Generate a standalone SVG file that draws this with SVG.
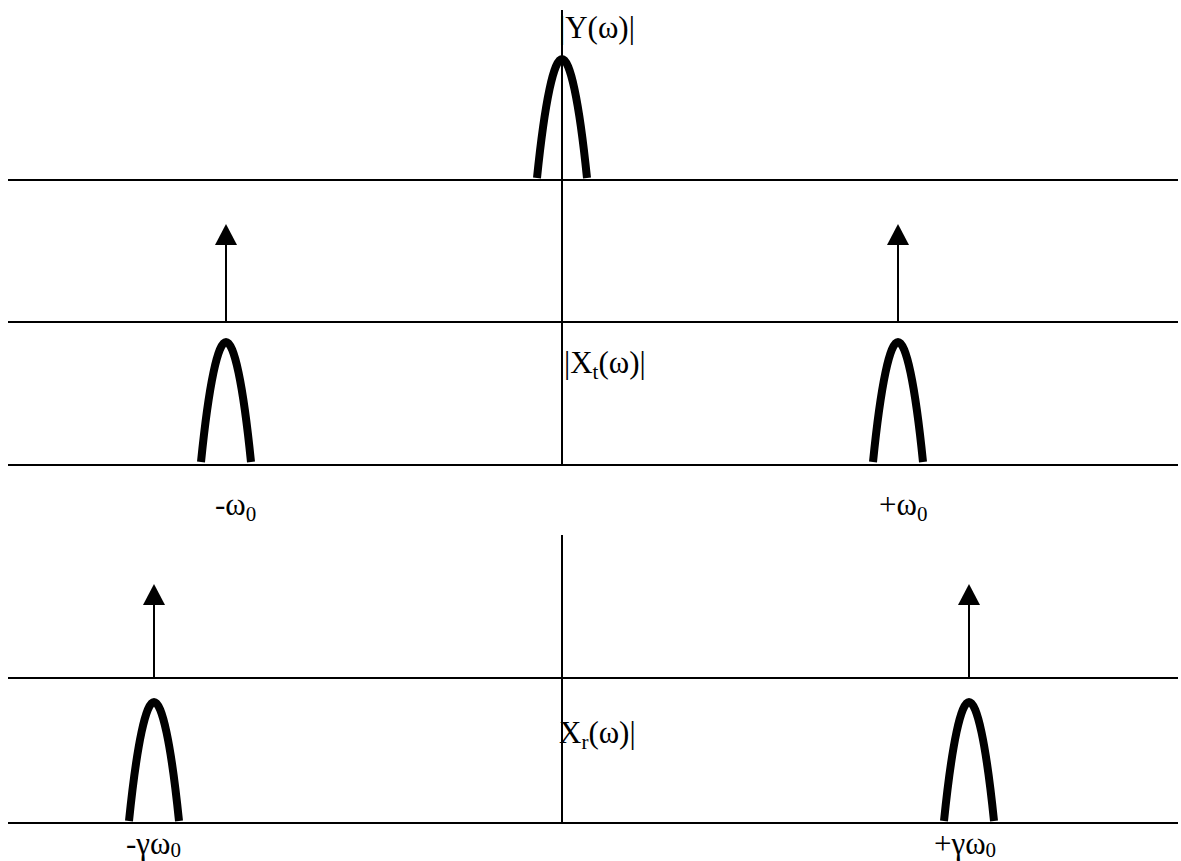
<svg xmlns="http://www.w3.org/2000/svg" width="1181" height="861" viewBox="0 0 1181 861">
<style>
.ax{stroke:#000;stroke-width:2;fill:none}
.pk{stroke:#000;stroke-width:8;fill:none}
.ar{stroke:#000;stroke-width:2}
text{font-family:"Liberation Serif","Times New Roman",serif;font-size:31px;fill:#000}
.sub{font-size:21px}
</style>
<defs>
<marker id="ah" viewBox="0 -11 21 22" refX="0" refY="0" markerWidth="21" markerHeight="22" markerUnits="userSpaceOnUse" orient="auto">
<path d="M0,-11 L21,0 L0,11 Z" fill="#000"/>
</marker>
</defs>
<g id="connectors">
<line class="ax" x1="8" y1="180" x2="1178" y2="180"/>
<line class="ax" x1="8" y1="322" x2="1178" y2="322"/>
<line class="ax" x1="8" y1="465" x2="1178" y2="465"/>
<line class="ax" x1="8" y1="678" x2="1178" y2="678"/>
<line class="ax" x1="8" y1="823" x2="1178" y2="823"/>
<line class="ax" x1="562" y1="10" x2="562" y2="465"/>
<line class="ax" x1="562" y1="535" x2="562" y2="823"/>
<line class="ar" x1="226" y1="322" x2="226" y2="245" marker-end="url(#ah)"/>
<line class="ar" x1="898" y1="322" x2="898" y2="245" marker-end="url(#ah)"/>
<line class="ar" x1="154" y1="678" x2="154" y2="605" marker-end="url(#ah)"/>
<line class="ar" x1="969" y1="678" x2="969" y2="605" marker-end="url(#ah)"/>
</g>
<g id="peak-y"><path class="pk" d="M537,178 C545,100 554,59 562,59 C570,59 579,100 587,178"/></g>
<g id="peak-xt-left"><path class="pk" d="M201,462 C209,383 218,342 226,342 C234,342 243,383 251,462"/></g>
<g id="peak-xt-right"><path class="pk" d="M873,462 C881,383 890,342 898,342 C906,342 915,383 923,462"/></g>
<g id="peak-xr-left"><path class="pk" d="M129,821 C137,743 146,702 154,702 C162,702 171,743 179,821"/></g>
<g id="peak-xr-right"><path class="pk" d="M944,821 C952,743 961,702 969,702 C977,702 986,743 994,821"/></g>
<g id="labels">
<text x="559" y="38">|Y(ω)|</text>
<text x="564" y="373">|X<tspan class="sub" dy="6">t</tspan><tspan dy="-6">(ω)|</tspan></text>
<text x="215" y="515">-ω<tspan class="sub" dy="6">0</tspan></text>
<text x="879" y="515">+ω<tspan class="sub" dy="6">0</tspan></text>
<text x="559" y="743">X<tspan class="sub" dy="6">r</tspan><tspan dy="-6">(ω)|</tspan></text>
<text x="126" y="854">-γω<tspan class="sub" dy="3">0</tspan></text>
<text x="934" y="854">+γω<tspan class="sub" dy="3">0</tspan></text>
</g>
</svg>
